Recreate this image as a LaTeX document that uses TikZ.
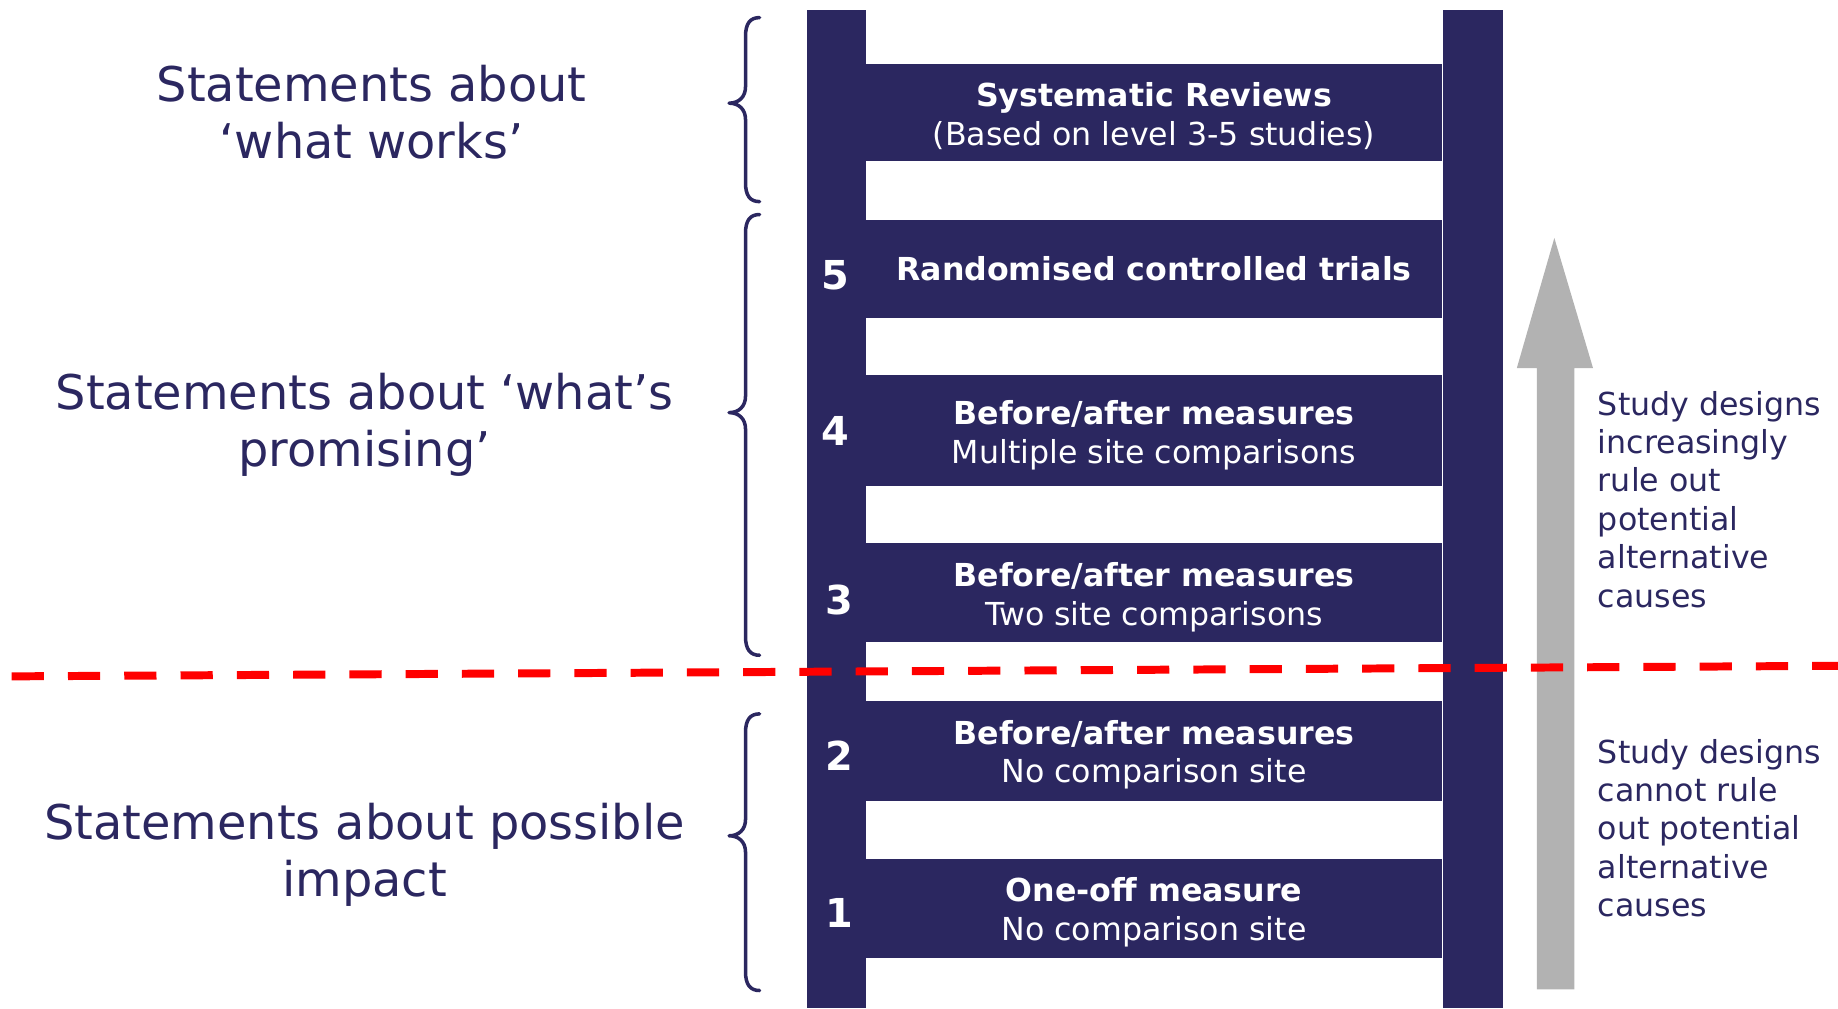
\documentclass[tikz,border=0pt]{standalone}
\usepackage{fontspec}
\setmainfont{DejaVu Sans}
\definecolor{navy}{HTML}{2B2760}
\definecolor{arrowgray}{HTML}{B2B2B2}
\definecolor{dashred}{HTML}{FF0000}
\newcommand\drawbrace[3]{%
  \draw[bracestyle] (648,#1) .. controls (640,#1) and (636,#1+5) .. (636,#1+16)
    -- (636,#2-14) .. controls (636,#2-5) and (630,#2) .. (622,#2)
    .. controls (630,#2) and (636,#2+5) .. (636,#2+14)
    -- (636,#3-16) .. controls (636,#3-5) and (640,#3) .. (648,#3);}
\begin{document}
\begin{tikzpicture}[x=1pt,y=-1pt,
  rail/.style={fill=navy, minimum width=51pt, minimum height=852pt, anchor=north west, inner sep=0pt},
  rung/.style={fill=navy, minimum width=491pt, inner sep=0pt},
  rungtext/.style={text=white, inner sep=0pt, align=center, font=\fontsize{27}{33}\selectfont},
  num/.style={text=white, font=\fontsize{34}{34}\selectfont\bfseries, inner sep=0pt},
  lefttext/.style={text=navy, align=center, font=\fontsize{40.8}{49}\selectfont, inner sep=0pt},
  sidetext/.style={text=navy, align=left, anchor=west, font=\fontsize{27}{32.8}\selectfont, inner sep=0pt},
  bracestyle/.style={draw=navy, line width=3pt, line cap=round, line join=round},
  ]
\useasboundingbox (0,0) rectangle (1568,860);
% rails
\node[rail] (railL) at (688,8) {};
\node[rail] (railR) at (1231,8) {};
% rungs
\node[rung, minimum height=82pt] (r6) at (984.5,96) {};
\node[rung, minimum height=83pt] (r5) at (984.5,229.5) {};
\node[rung, minimum height=95pt] (r4) at (984.5,367.5) {};
\node[rung, minimum height=85pt] (r3) at (984.5,505.5) {};
\node[rung, minimum height=85pt] (r2) at (984.5,640.5) {};
\node[rung, minimum height=84pt] (r1) at (984.5,775) {};
\node[rungtext] (r6t) at ([yshift=-3pt]r6.center) {\textbf{Systematic Reviews}\\(Based on level 3-5 studies)};
\node[rungtext] (r5t) at (r5.center) {\textbf{Randomised controlled trials}};
\node[rungtext] (r4t) at ([yshift=-4pt]r4.center) {\textbf{Before/after measures}\\Multiple site comparisons};
\node[rungtext] (r3t) at ([yshift=-4pt]r3.center) {\textbf{Before/after measures}\\Two site comparisons};
\node[rungtext] (r2t) at ([yshift=-3.5pt]r2.center) {\textbf{Before/after measures}\\No comparison site};
\node[rungtext] (r1t) at ([yshift=-3.5pt]r1.center) {\textbf{One-off measure}\\No comparison site};
% numbers
\node[num] (n5) at (713,235) {5};
\node[num] (n4) at (713,368) {4};
\node[num] (n3) at (716,512) {3};
\node[num] (n2) at (716,645) {2};
\node[num] (n1) at (716,779) {1};
% left statements
\node[lefttext] (s1) at (317,95.5) {Statements about\\‘what works’};
\node[lefttext] (s2) at (311,362.5) {Statements about ‘what’s\\promising’};
\node[lefttext] (s3) at (311,729) {Statements about possible\\impact};
% braces
\drawbrace{15}{88}{172}
\drawbrace{183}{352}{559}
\drawbrace{609}{713}{845}
% grey arrow
\fill[arrowgray] (1311,844) -- (1311,314) -- (1294,314) -- (1326,203) -- (1359,314) -- (1343,314) -- (1343,844) -- cycle;
% side texts
\node[sidetext] (t1) at (1363,426) {Study designs\\increasingly\\rule out\\potential\\alternative\\causes};
\node[sidetext] (t2) at (1363,706.5) {Study designs\\cannot rule\\out potential\\alternative\\causes};
% red dashed line
\coordinate (dl) at (10,577);
\coordinate (dr) at (1568,568);
\draw[dashred, line width=6.8pt, dash pattern=on 27.5pt off 20.5pt] (dl) -- (dr);
\end{tikzpicture}
\end{document}
